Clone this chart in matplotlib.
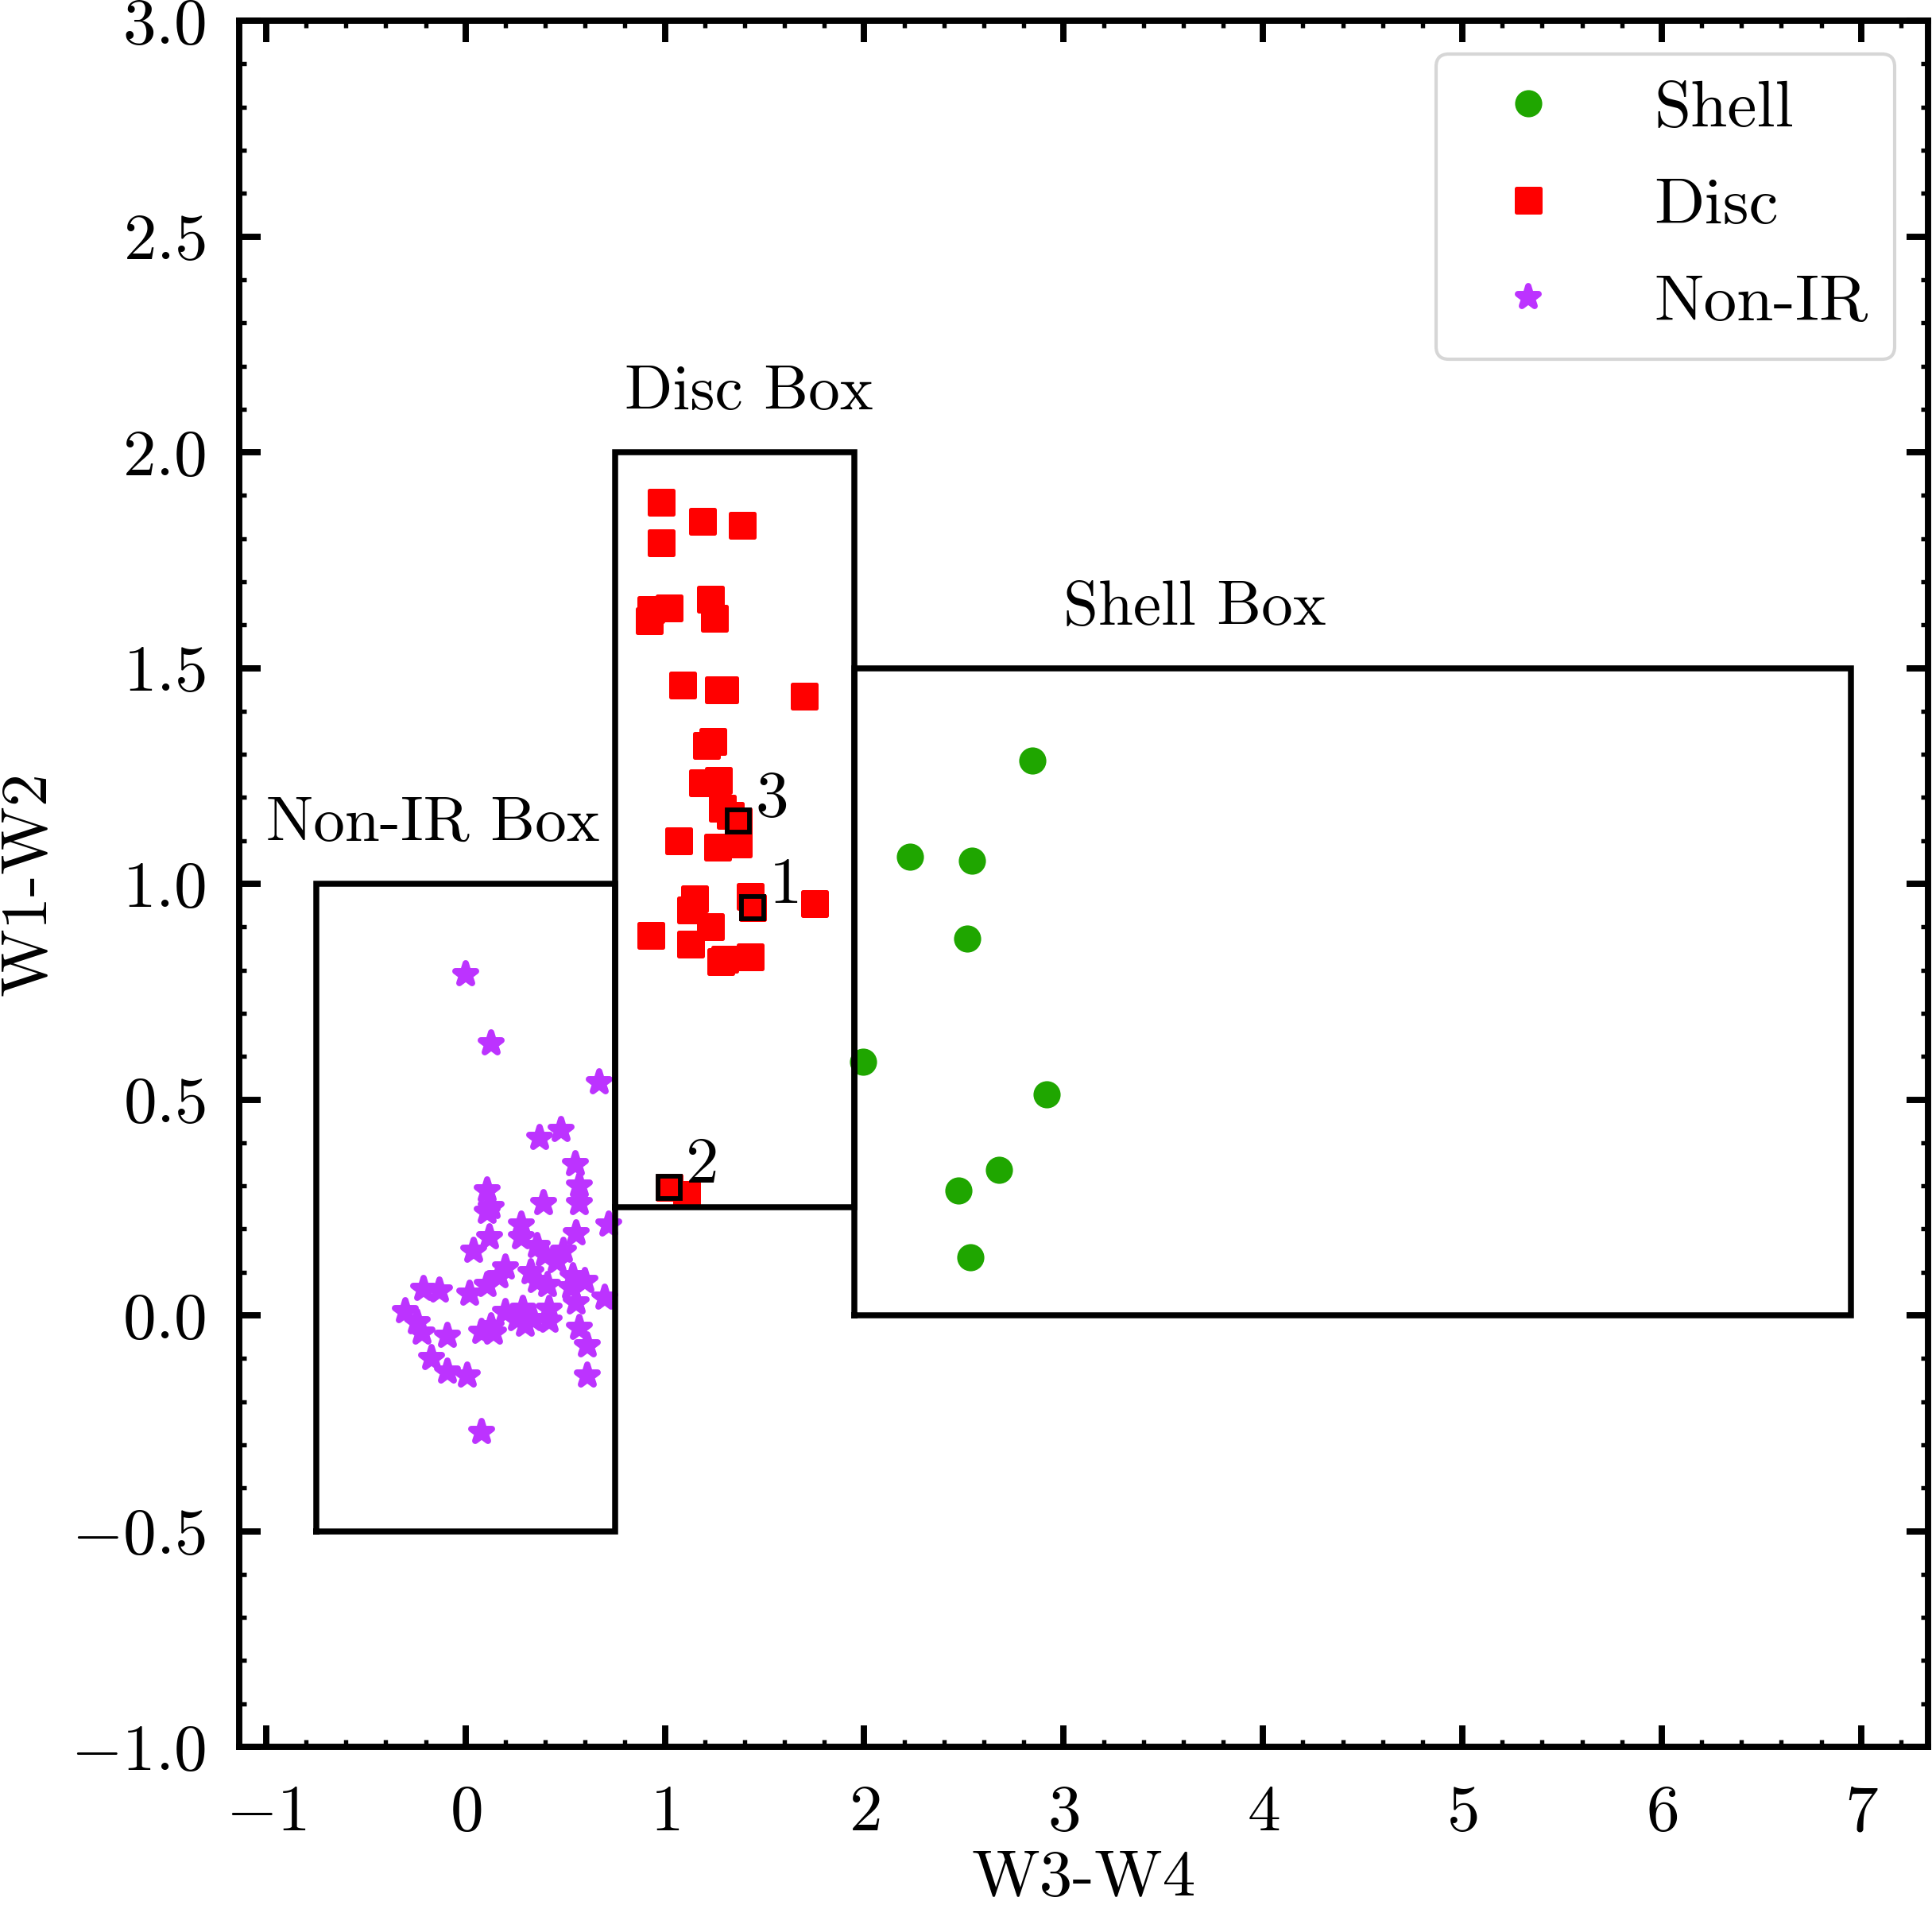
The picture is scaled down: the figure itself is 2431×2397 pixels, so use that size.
import matplotlib
matplotlib.use('Agg')
import matplotlib.pyplot as plt
from matplotlib.markers import MarkerStyle
from matplotlib.ticker import MultipleLocator

# Shell sources (W3-W4, W1-W2)
shell_x = [2.845, 2.230, 2.541, 2.516, 1.993, 2.914, 2.677, 2.473, 2.533]
shell_y = [1.285, 1.063, 1.053, 0.873, 0.588, 0.512, 0.337, 0.289, 0.134]

# Disc sources
disc_x = [0.98, 0.98, 1.19, 1.39, 0.93, 0.92, 1.02, 1.23, 1.25, 1.09,
          1.27, 1.30, 1.70, 1.21, 1.24, 1.19, 1.27, 1.29, 1.33, 1.37,
          1.07, 1.265, 1.367, 1.15, 1.13, 1.43, 1.44, 1.75, 1.23, 0.93,
          1.13, 1.28, 1.30, 1.43, 1.02, 1.11]
disc_y = [1.885, 1.79, 1.84, 1.83, 1.635, 1.61, 1.64, 1.66, 1.615, 1.46,
          1.45, 1.45, 1.435, 1.32, 1.33, 1.234, 1.24, 1.175, 1.158, 1.145,
          1.10, 1.084, 1.092, 0.965, 0.94, 0.97, 0.945, 0.955, 0.90, 0.88,
          0.86, 0.82, 0.825, 0.83, 0.296, 0.28]

# Non-IR sources
nonir_x = [0.00, 0.13, 0.67, 0.37, 0.48, 0.55, 0.57, 0.57, 0.39, 0.11,
           0.13, 0.11, 0.72, 0.28, 0.555, 0.12, 0.04, 0.28, 0.36, 0.40,
           0.49, 0.46, 0.33, 0.36, 0.41, 0.54, 0.60, 0.53, 0.555, 0.70,
           0.20, 0.17, 0.11, 0.02, -0.21, -0.13, -0.30, -0.24, -0.22, -0.09,
           0.20, 0.29, 0.30, 0.26, 0.34, 0.42, 0.42, 0.08, 0.14, 0.13,
           0.57, 0.61, -0.17, -0.09, 0.01, 0.61, 0.08]
nonir_y = [0.79, 0.63, 0.54, 0.41, 0.43, 0.35, 0.30, 0.26, 0.26, 0.29,
           0.25, 0.24, 0.21, 0.21, 0.19, 0.18, 0.15, 0.18, 0.16, 0.14,
           0.15, 0.125, 0.10, 0.08, 0.07, 0.09, 0.08, 0.065, 0.03, 0.04,
           0.11, 0.09, 0.07, 0.05, 0.06, 0.057, 0.01, -0.016, -0.04, -0.047,
           0.008, 0.014, -0.022, -0.01, -0.01, 0.014, -0.013, -0.038, -0.041, -0.025,
           -0.03, -0.07, -0.10, -0.13, -0.14, -0.14, -0.27]

# highlighted disc sources
hl_x = [1.44, 1.02, 1.37]
hl_y = [0.945, 0.296, 1.145]
hl_labels = ['1', '2', '3']

# selection boxes (x0, x1, y0, y1)
nonir_box = [-0.75, 0.75, -0.5, 1.0]
disc_box = [0.75, 1.95, 0.25, 2.0]
shell_box = [1.95, 6.95, 0.0, 1.5]

plt.rcParams.update({
    'font.family': 'serif',
    'font.serif': ['cmr10'],
    'mathtext.fontset': 'cm',
    'axes.formatter.use_mathtext': True,
    'axes.linewidth': 1.9,
    'xtick.direction': 'in',
    'ytick.direction': 'in',
    'xtick.top': True,
    'ytick.right': True,
    'xtick.major.size': 6.5,
    'ytick.major.size': 6.5,
    'xtick.minor.size': 2.2,
    'ytick.minor.size': 2.2,
    'xtick.major.width': 1.9,
    'ytick.major.width': 1.9,
    'xtick.minor.width': 1.3,
    'ytick.minor.width': 1.3,
    'xtick.minor.visible': True,
    'ytick.minor.visible': True,
    'xtick.major.pad': 11.5,
    'ytick.major.pad': 10,
    'xtick.labelsize': 20,
    'ytick.labelsize': 20,
})

fig = plt.figure(figsize=(2431 / 300, 2397 / 300), dpi=300)
ax = fig.add_axes([0.1238, 0.083, 0.8741, 0.9061])

sq = MarkerStyle('s', joinstyle='round')
st = MarkerStyle('*', joinstyle='round')
ci = MarkerStyle('o', joinstyle='round')

ax.plot(shell_x, shell_y, ls='none', marker=ci, ms=7.6, mew=0.6,
        color='#1fa600', label='Shell', zorder=2)
ax.plot(disc_x, disc_y, ls='none', marker=sq, ms=7.0, mew=1.2,
        color='#ff0000', label='Disc', zorder=2)
ax.plot(nonir_x, nonir_y, ls='none', marker=st, ms=6.6, mew=1.9,
        color='#bc33ff', label='Non-IR', zorder=2)

ax.plot(hl_x, hl_y, ls='none', marker=MarkerStyle('s', joinstyle='miter'),
        ms=6.6, mew=1.4, mfc='#ff0000', mec='black', zorder=4)
for x, y, t in zip(hl_x, hl_y, hl_labels):
    ax.annotate(t, (x, y), xytext=(10, 6.5), textcoords='offset points',
                ha='center', va='center', fontsize=20)

# draw the boxes
for x0, x1, y0, y1 in [nonir_box, disc_box, shell_box]:
    ax.plot([x0, x1, x1, x0, x0], [y0, y0, y1, y1, y0], color='black',
            lw=1.8, zorder=3, solid_joinstyle='miter')

ax.text(-1.0, 1.1, 'Non-IR Box', fontsize=19)
ax.text(0.8, 2.1, 'Disc Box', fontsize=19)
ax.text(3.0, 1.6, 'Shell Box', fontsize=19)

ax.set_xlim(-1.135, 7.335)
ax.set_ylim(-1.0, 3.0)
ax.xaxis.set_major_locator(MultipleLocator(1))
ax.xaxis.set_minor_locator(MultipleLocator(0.2))
ax.yaxis.set_major_locator(MultipleLocator(0.5))
ax.yaxis.set_minor_locator(MultipleLocator(0.1))

ax.set_xlabel('W3-W4', fontsize=20, labelpad=2)
ax.set_ylabel('W1-W2', fontsize=20, labelpad=4)

ax.legend(loc='upper right', fontsize=20, labelspacing=0.57, handletextpad=0.9)

fig.savefig('out.png', dpi=300)
